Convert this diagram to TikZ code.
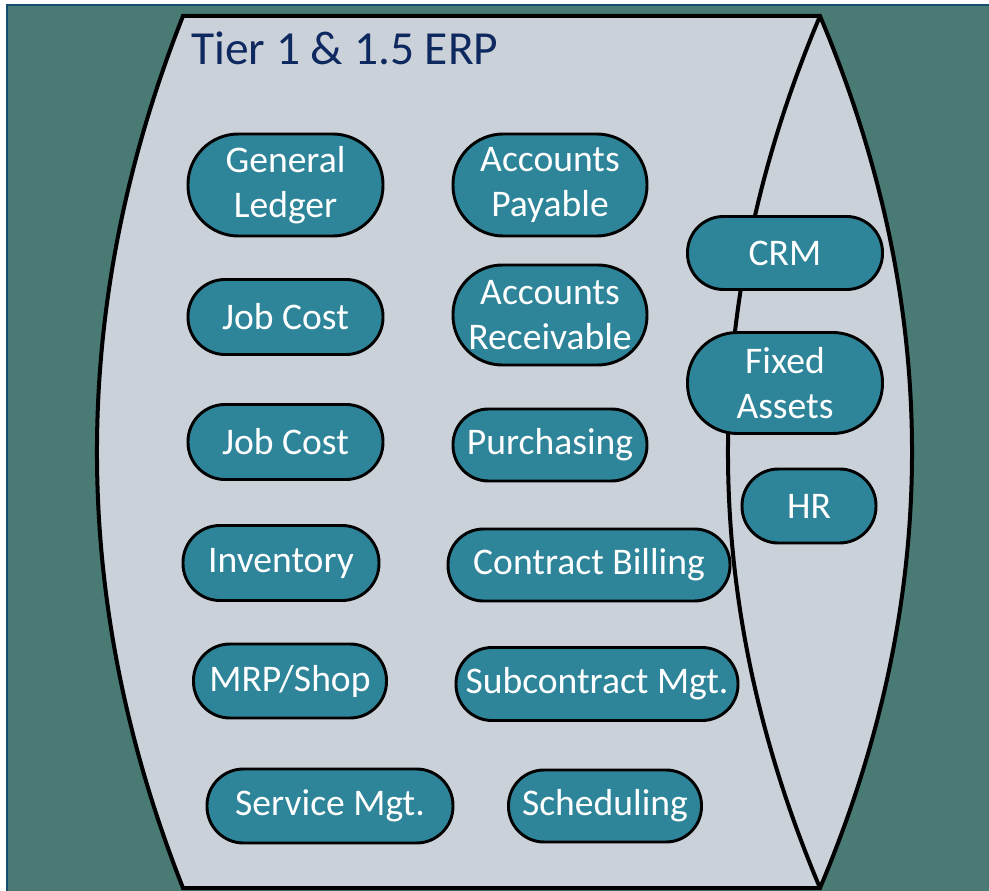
\documentclass[tikz,border=0pt]{standalone}
\usepackage{fontspec}
\setmainfont{Carlito}
\definecolor{bgteal}{HTML}{4A7A74}
\definecolor{framecol}{HTML}{154E6E}
\definecolor{shapefill}{HTML}{CBD1D8}
\definecolor{pillfill}{HTML}{2E8599}
\definecolor{titlecol}{HTML}{0E2860}
\tikzset{
  pill/.style n args={2}{draw=black, line width=2.2pt, fill=pillfill, text=white,
    align=center, inner sep=0pt,
    minimum width=#1*0.75pt, minimum height=#2*0.75pt,
    rounded corners=#2*0.37pt,
    font=\fontsize{28.2}{34.2}\selectfont},
  outline/.style={draw=black, line width=3pt}
}
\begin{document}
\begin{tikzpicture}[x=0.75pt,y=-0.75pt]
\useasboundingbox (0,0) rectangle (989,891);
\fill[white] (0,0) rectangle (989,891);
\path[fill=bgteal, draw=framecol, line width=1.6pt] (7,5) rectangle (1000,900);
% main shape
\path[fill=shapefill, outline, line join=miter]
  (183,16) -- (820,16)
  .. controls (942.7,306.7) and (942.7,597.3) .. (820,888)
  -- (183,888)
  .. controls (68.3,597.3) and (68.3,306.7) .. (183,16) -- cycle;
\coordinate (itop) at (820,16);
\coordinate (ibot) at (820,888);
\draw[outline] (itop) .. controls (697.3,306.7) and (697.3,597.3) .. (ibot);
% title
\node[anchor=base west, inner sep=0pt, text=titlecol,
  font=\fontsize{35.6}{43}\selectfont] (title) at (191,65) {Tier 1 \& 1.5 ERP};
% left column
\node[pill={195}{102}] (gl) at (285.5,185) {General\\Ledger};
\node[pill={195}{75}] (jc1) at (285.5,317) {Job Cost};
\node[pill={195}{75}] (jc2) at (285.5,442) {Job Cost};
\node[pill={196}{75}] (inv) at (281,563) {Inventory};
\node[pill={193}{74}] (mrp) at (290,681) {MRP/Shop};
\node[pill={246}{74}] (svc) at (330,806) {Service Mgt.};
% middle column
\node[pill={194}{102}] (ap) at (550,185) {Accounts\\Payable};
\node[pill={194}{100}] (ar) at (550,315) {Accounts\\Receivable};
\node[pill={194}{72}] (pur) at (550,445) {Purchasing};
\node[pill={282}{72}] (cb) at (589,565) {Contract Billing};
\node[pill={282}{73}] (sub) at (597,684) {Subcontract Mgt.};
\node[pill={193}{72}] (sch) at (605,806) {Scheduling};
% right column
\node[pill={195}{73}] (crm) at (785,253) {CRM};
\node[pill={195}{101}] (fa) at (785,383) {Fixed\\Assets};
\node[pill={134}{74}] (hr) at (809,506) {HR};
\end{tikzpicture}
\end{document}
